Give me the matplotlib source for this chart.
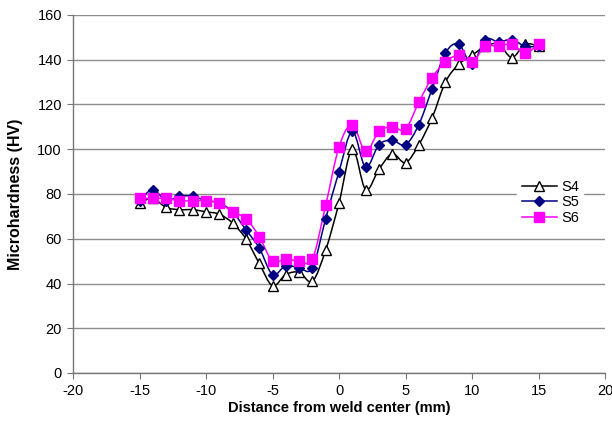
import matplotlib
matplotlib.use("Agg")
import matplotlib.pyplot as plt
import numpy as np
from matplotlib.path import Path
from matplotlib.patches import PathPatch
from matplotlib.lines import Line2D

plt.rcParams['font.family'] = ['Liberation Sans', 'DejaVu Sans']
plt.rcParams['axes.unicode_minus'] = False

distance = list(range(-15, 16))
s4 = [76, 78, 74, 73, 73, 72, 71, 67, 60, 49, 39, 44, 45, 41, 55, 76, 100, 82, 91, 98, 94,
      102, 114, 130, 138, 142, 146, 147, 141, 147, 146]
s5 = [77, 82, 77, 79, 79, 77, 76, 72, 64, 56, 44, 48, 47, 47, 69, 90, 108, 92, 102, 104, 102,
      111, 127, 143, 147, 138, 149, 148, 149, 146, 146]
s6 = [78, 78, 78, 77, 77, 77, 76, 72, 69, 61, 50, 51, 50, 51, 75, 101, 111, 99, 108, 110, 109,
      121, 132, 139, 142, 139, 146, 146, 147, 143, 147]

series = [
    ("S4", s4, "black", "^", "white", 7),
    ("S5", s5, "#000080", "D", "#000080", 5),
    ("S6", s6, "#FF00FF", "s", "#FF00FF", 6.5),
]

fig = plt.figure(figsize=(6.12, 4.30), dpi=100)
ax = fig.add_axes([73/612, 57/430, (605-73)/612, (415-57)/430])


def smooth_path(x, y):
    x = np.asarray(x, float)
    y = np.asarray(y, float)
    verts = [(x[0], y[0])]
    codes = [Path.MOVETO]
    n = len(x)
    for i in range(n - 1):
        x0, y0 = (x[i-1], y[i-1]) if i > 0 else (x[i], y[i])
        x3, y3 = (x[i+2], y[i+2]) if i + 2 < n else (x[i+1], y[i+1])
        c1 = (x[i] + (x[i+1] - x0) / 6, y[i] + (y[i+1] - y0) / 6)
        c2 = (x[i+1] - (x3 - x[i]) / 6, y[i+1] - (y3 - y[i]) / 6)
        verts += [c1, c2, (x[i+1], y[i+1])]
        codes += [Path.CURVE4] * 3
    return Path(verts, codes)


handles = []
for name, vals, col, mk, fc, ms in series:
    ax.add_patch(PathPatch(smooth_path(distance, vals), facecolor='none',
                           edgecolor=col, lw=1.1, zorder=3))
    ax.plot(distance, vals, linestyle='none', marker=mk, markersize=ms,
            markerfacecolor=fc, markeredgecolor=col, markeredgewidth=1.0, zorder=4)
    handles.append(Line2D([], [], color=col, lw=1.1, marker=mk, markersize=ms,
                          markerfacecolor=fc, markeredgecolor=col, label=name))

ax.set_xlim(-20, 20)
ax.set_ylim(0, 160)
ax.set_xticks(range(-20, 21, 5))
ax.set_yticks(range(0, 161, 20))
ax.yaxis.grid(True, color='#8c8c8c', lw=1.0)
ax.set_axisbelow(True)
for s in ['top', 'right']:
    ax.spines[s].set_visible(False)
for s in ['left', 'bottom']:
    ax.spines[s].set_color('#777777')
    ax.spines[s].set_linewidth(1.0)
ax.tick_params(direction='out', length=4, color='#777777', labelsize=10.5,
               labelcolor='black', pad=4)

ax.set_xlabel("Distance from weld center (mm)", fontsize=10.5, fontweight='bold', labelpad=2)
ax.set_ylabel("Microhardness (HV)", fontsize=11.5, fontweight='bold', labelpad=10)

leg = fig.legend(handles=handles, loc='upper left', bbox_to_anchor=(510/612, 1 - 168/430),
                 frameon=True, fontsize=10.5, handlelength=2.4, handletextpad=0.3,
                 labelspacing=0.12, borderpad=0.3)
leg.get_frame().set_edgecolor('white')
leg.get_frame().set_facecolor('white')
leg.get_frame().set_alpha(1)

fig.savefig("out.png", dpi=100)
